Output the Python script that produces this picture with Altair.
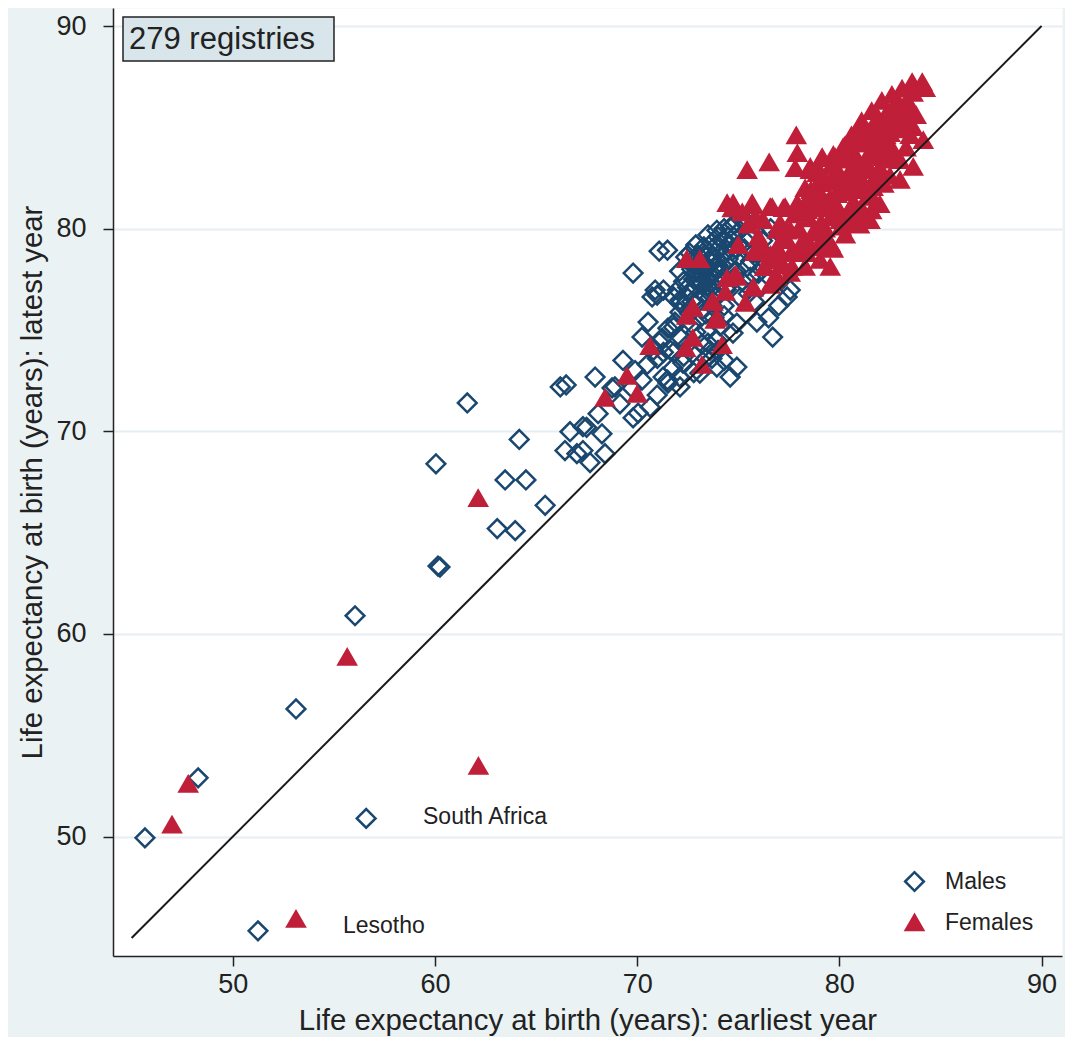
import altair as alt
import pandas as pd

# ---------------- data ----------------
male_x = [45.66, 48.29, 53.13, 51.25, 56.6, 56.05, 60.15, 60.25, 60.05, 61.6, 63.08, 63.47, 63.97, 64.17, 64.5, 65.45,
          66.2, 66.49, 67.92, 68.76, 66.68, 67.32, 68.26, 66.43, 67.02, 67.32, 67.67, 68.41, 68.07, 69.15, 69.8,
          71.09, 69.8, 70.89, 70.99, 70.74, 72.12, 70.54, 70.24, 71.52, 71.23, 72.12, 71.87, 69.3, 68.9, 67.5, 69.9,
          70.24, 69.75, 70.99, 70.64, 70.05, 71.28, 71.77, 72.26, 72.1, 71.52, 72.75, 73.5, 72.5, 73.24, 72.6,
          72.95, 73.44, 73.84, 73.24, 73.0, 73.94, 74.44, 74.93, 75.23, 75.33, 73.94, 74.6, 74.25, 71.5, 71.99, 71.8,
          72.12, 71.3, 74.93, 75.92, 76.7, 74.74, 73.94, 73.44, 71.8, 72.12, 71.65, 73.6, 73.94, 74.93, 74.6, 73.1,
          71.5, 72.12, 77.57, 77.42, 75.74, 76.23, 75.43,
          73.3, 73.6, 73.1, 73.5, 73.8, 74.1, 72.8, 72.7, 73.4, 74.0, 74.5, 74.8, 75.0, 75.5, 75.8, 76.2, 76.6, 77.0,
          76.5, 77.2, 74.6, 75.1, 74.3, 73.2, 72.6, 74.9, 73.6, 72.9, 73.2, 72.4, 71.0, 70.5, 71.3, 74.3, 75.5, 76.1,
          75.8, 76.5, 77.0, 73.7,
          72.8, 73.0, 73.3, 73.7, 74.0, 74.3, 73.6, 73.9, 74.2, 74.5, 74.7, 75.0, 75.3, 74.8, 74.4, 74.0, 73.7, 73.4,
          73.0, 72.6, 72.3, 72.1, 72.4, 72.9, 73.5, 75.6, 76.0, 76.3, 75.2, 75.6, 76.0, 74.1, 73.8, 72.7, 72.3, 71.8,
          71.1, 70.8, 72.8, 73.4, 74.3, 74.0,
          73.1, 73.5, 73.9, 74.3, 73.2, 72.9, 73.6, 74.2, 73.0, 73.7, 74.6, 72.7, 74.9, 73.3, 74.0]
male_y = [49.94, 52.9, 56.3, 45.35, 50.9, 60.9, 63.35, 63.3, 68.4, 71.4, 65.2, 67.6, 65.1, 69.6, 67.6, 66.35,
          72.19, 72.29, 72.68, 72.14, 69.98, 70.23, 69.88, 69.05, 68.9, 69.05, 68.46, 68.9, 70.87, 71.36, 70.67,
          78.89, 77.81, 76.97, 76.72, 76.63, 76.48, 75.39, 74.65, 75.09, 74.6, 75.88, 75.39, 73.5, 72.2, 70.2, 73.0,
          72.53, 72.13, 71.79, 71.2, 70.9, 72.68, 73.12, 73.37, 72.68, 72.38, 73.86, 74.35, 77.1, 78.8, 78.8,
          77.86, 77.61, 78.11, 77.31, 77.46, 76.97, 78.94, 79.77, 80.07, 80.42, 79.92, 80.07, 79.43, 78.94, 76.97, 76.63,
          76.33, 76.97, 75.34, 75.39, 74.65, 74.85, 74.5, 75.0, 75.14, 74.65, 74.0, 74.0, 73.17, 73.17, 72.68, 72.87,
          72.53, 72.19, 76.97, 76.63, 78.79, 78.11, 78.11,
          78.0, 78.4, 77.9, 77.2, 77.5, 77.8, 77.5, 78.0, 78.6, 79.0, 79.6, 80.2, 79.2, 79.6, 79.9, 79.4, 80.0, 79.8,
          78.6, 78.4, 77.3, 76.6, 76.2, 76.0, 75.8, 77.9, 76.6, 74.9, 74.3, 74.2, 73.6, 73.3, 73.9, 75.7, 76.8, 77.1,
          76.4, 75.6, 76.2, 73.6,
          78.3, 78.7, 79.1, 79.3, 79.6, 80.0, 78.8, 78.5, 78.2, 78.5, 78.9, 78.6, 79.0, 77.6, 77.0, 76.7, 76.2, 75.8,
          76.5, 76.9, 77.4, 77.9, 78.6, 79.2, 79.7, 78.4, 78.8, 78.4, 77.4, 77.6, 77.8, 75.2, 75.6, 75.3, 73.7, 73.9,
          74.4, 74.0, 72.9, 73.6, 73.5, 74.0,
          78.3, 78.1, 77.9, 78.7, 77.7, 77.1, 77.0, 77.4, 78.0, 78.6, 79.2, 76.4, 79.0, 76.8, 78.2]

female_x = [47.0, 47.8, 55.66, 62.14, 62.15, 53.13,
            72.45, 73.1, 70.64, 69.5, 68.41, 70.0, 72.75, 72.45, 72.75, 72.4, 73.2, 73.76, 73.86,
            74.45, 75.69, 76.68, 77.32, 75.0, 75.84, 74.45, 74.85, 74.36, 75.74, 76.58, 73.7, 75.35, 72.77, 73.96,
            74.2, 76.23, 76.92, 77.42, 77.07, 76.92, 77.67,
            77.87, 76.53, 75.44, 77.92, 77.82, 79.15, 79.79, 80.29, 80.88, 81.18, 78.56, 78.31, 79.05, 79.55, 78.9,
            77.92, 77.23, 76.58, 75.69, 74.75, 75.94, 77.07, 77.57, 78.41, 79.89, 80.54, 81.13, 75.0, 75.84, 76.92,
            77.32, 77.92, 78.41, 79.05, 79.55, 79.05, 79.55, 78.31, 77.57, 76.73, 75.74, 74.94, 80.04, 80.54, 81.18,
            78.9, 76.73,
            83.6, 84.1, 84.25, 83.65, 83.35, 83.0, 82.86, 82.51, 83.16, 82.16, 81.67, 81.17, 80.68, 80.19, 79.7,
            79.15, 78.56, 83.65, 83.5, 84.15, 83.65, 82.66, 83.0, 82.16, 82.02, 81.37, 80.88, 81.67, 81.37, 80.88,
            80.19, 79.7, 80.68, 81.52, 81.17, 80.04, 79.05, 78.9, 82.02, 82.51, 81.67, 80.54,
            78.0, 78.5, 79.0, 79.3, 79.8, 80.2, 80.5, 80.8, 81.0, 81.3, 81.5, 81.8, 82.0, 82.3, 82.6, 82.9, 83.2,
            83.4, 82.8, 82.4, 81.9, 81.4, 80.9, 80.4, 79.9, 79.4, 78.9, 78.4, 78.2, 78.7, 79.2, 80.0, 80.7, 81.2,
            81.8, 82.2, 80.3, 79.7, 77.8, 77.4, 76.9, 76.3, 76.0, 75.5, 81.6, 81.0, 80.5,
            78.2, 78.6, 79.1, 79.6, 80.1, 80.6, 81.1, 81.6, 82.1, 82.6, 83.1, 79.4, 79.9, 80.4, 80.9, 81.4, 81.9,
            82.4, 82.9, 83.3, 83.8, 78.0, 78.6, 79.1, 79.6, 80.1, 80.6, 81.1, 81.6, 82.0, 82.5, 83.0, 82.7, 83.3,
            77.6, 77.1, 76.6, 76.2, 75.8, 75.2, 74.7]
female_y = [50.59, 52.6, 58.86, 66.7, 53.48, 45.94,
            78.49, 78.49, 74.2, 72.73, 71.64, 71.84, 76.13, 75.69, 74.6, 74.1, 73.27, 76.38, 75.49,
            81.26, 81.16, 81.06, 81.06, 79.18, 78.84, 77.56, 77.71, 76.87, 77.07, 77.22, 76.38, 76.33, 76.08, 75.59,
            74.25, 80.42, 79.93, 79.43, 78.45, 77.61, 78.11,
            84.6, 83.27, 82.88, 83.72, 82.98, 83.53, 83.53, 84.12, 84.61, 85.0, 82.88, 82.0, 82.24, 81.5, 81.06,
            81.26, 81.01, 81.06, 81.26, 81.26, 80.42, 80.27, 79.93, 80.91, 80.57, 80.27, 80.42, 79.18, 78.94, 79.08,
            79.58, 78.79, 78.79, 79.08, 79.28, 78.45, 78.11, 78.11, 77.81, 77.46, 77.12, 77.61, 82.05, 82.39, 83.04,
            83.04, 78.45,
            87.23, 87.23, 86.93, 86.69, 86.34, 86.09, 85.74, 85.45, 85.35, 85.1, 85.0, 85.1, 84.51, 84.02, 83.63,
            83.48, 83.04, 85.0, 84.61, 84.36, 83.04, 83.87, 83.38, 83.53, 82.54, 82.89, 83.04, 82.05, 81.56, 81.9,
            82.24, 82.54, 81.06, 80.42, 80.76, 80.42, 81.75, 82.74, 84.22, 84.71, 83.73, 83.53,
            80.0, 80.5, 81.0, 80.0, 81.2, 81.8, 82.8, 83.6, 82.6, 83.3, 84.2, 84.0, 83.0, 84.6, 85.2, 84.9, 85.7,
            86.0, 86.2, 85.8, 85.5, 84.8, 84.2, 83.4, 82.9, 82.3, 81.6, 81.4, 79.4, 79.8, 79.6, 80.9, 81.3, 82.1,
            82.6, 82.2, 79.7, 79.0, 80.7, 79.9, 78.9, 78.1, 79.6, 80.2, 80.9, 80.2, 80.9,
            80.9, 81.9, 82.5, 83.1, 83.8, 84.6, 85.3, 85.8, 86.3, 86.6, 86.9, 81.3, 81.7, 82.1, 82.9, 83.6, 84.3,
            84.0, 85.3, 85.0, 85.6, 78.9, 79.1, 80.3, 80.6, 80.1, 80.6, 81.0, 81.6, 81.2, 82.6, 82.4, 83.4, 84.0,
            78.8, 78.2, 78.7, 79.1, 80.5, 80.8, 81.0]

groups = ["Males", "Females"]
line_x = [45, 90]
line_y = [45, 90]
label_text = ["South Africa", "Lesotho"]
label_x = [59.41, 55.45]
label_y = [50.97, 45.6]
tick_values = [50, 60, 70, 80, 90]
box_text = ["279 registries"]

# ---------------- tables ----------------
pts = pd.DataFrame({
    "x": male_x + female_x,
    "y": male_y + female_y,
    "sex": ["Males"] * len(male_x) + ["Females"] * len(female_x),
})
line_df = pd.DataFrame({"x": line_x, "y": line_y})
lab_df = pd.DataFrame({"x": label_x, "y": label_y, "t": label_text})
box_df = pd.DataFrame({"t": box_text})

FONT = "Liberation Sans"
TXT = "#222222"
NAVY = "#1A476F"
RED = "#C01F39"

xscale = alt.Scale(domain=[44.08, 91.01], nice=False, zero=False)
yscale = alt.Scale(domain=[44.11, 90.89], nice=False, zero=False)

xaxis = alt.Axis(values=tick_values, grid=False, title="Life expectancy at birth (years): earliest year",
                 domainColor=TXT, domainWidth=1.5, tickColor=TXT, tickWidth=1.5, tickSize=10,
                 labelFontSize=27, labelColor=TXT, labelPadding=5, labelFont=FONT,
                 titleFontSize=29.4, titleFontWeight="normal", titleColor=TXT, titleFont=FONT,
                 titleX=474.5, titleY=64, titleBaseline="middle", titleAlign="center")
yaxis = alt.Axis(values=tick_values, grid=True, gridColor="#E5EEF1", gridWidth=2,
                 title="Life expectancy at birth (years): latest year",
                 domainColor=TXT, domainWidth=1.5, tickColor=TXT, tickWidth=1.5, tickSize=10,
                 labelFontSize=27, labelColor=TXT, labelPadding=17, labelFont=FONT,
                 titleFontSize=29.4, titleFontWeight="normal", titleColor=TXT, titleFont=FONT,
                 titleAngle=270, titleX=-81, titleY=474, titleBaseline="middle", titleAlign="center")

leg = alt.Legend(title=None, orient="none", legendX=790, legendY=862, labelFontSize=23, labelFont=FONT,
                 labelColor=TXT, symbolStrokeWidth=2.5, rowPadding=14, labelOffset=19, padding=0)

points = alt.Chart(pts).mark_point(strokeWidth=2.5, opacity=1, fillOpacity=1).encode(
    x=alt.X("x:Q", scale=xscale, axis=xaxis),
    y=alt.Y("y:Q", scale=yscale, axis=yaxis),
    shape=alt.Shape("sex:N", scale=alt.Scale(domain=groups, range=["diamond", "triangle-up"]), legend=leg),
    stroke=alt.Stroke("sex:N", scale=alt.Scale(domain=groups, range=[NAVY, RED]), legend=leg),
    fill=alt.Fill("sex:N", scale=alt.Scale(domain=groups, range=["transparent", RED]), legend=leg),
    size=alt.Size("sex:N", scale=alt.Scale(domain=groups, range=[350, 300]), legend=leg),
)

diag = alt.Chart(line_df).mark_line(color="#1a1a1a", strokeWidth=2).encode(
    x=alt.X("x:Q", scale=xscale),
    y=alt.Y("y:Q", scale=yscale),
)

labels = alt.Chart(lab_df).mark_text(align="left", baseline="middle", fontSize=23, font=FONT, color=TXT).encode(
    x=alt.X("x:Q", scale=xscale),
    y=alt.Y("y:Q", scale=yscale),
    text="t:N",
)

box = alt.Chart(box_df).mark_rect(fill="#D8E5EA", stroke=TXT, strokeWidth=1.5).encode(
    x=alt.value(10), x2=alt.value(221), y=alt.value(9), y2=alt.value(53)
)
box_label = alt.Chart(box_df).mark_text(align="left", baseline="middle", fontSize=31, font=FONT, color=TXT).encode(
    x=alt.value(16), y=alt.value(32), text="t:N"
)

chart = alt.layer(points, diag, labels, box, box_label).properties(
    width=949, height=948,
    autosize=alt.AutoSizeParams(type="none"),
    padding={"left": 105, "top": 0, "right": 3, "bottom": 81},
    background="#EAF2F3",
    view=alt.ViewBackground(fill="white", stroke="transparent"),
).configure(font=FONT)

chart.save("out.html", embed_options={"renderer": "svg", "actions": False})
